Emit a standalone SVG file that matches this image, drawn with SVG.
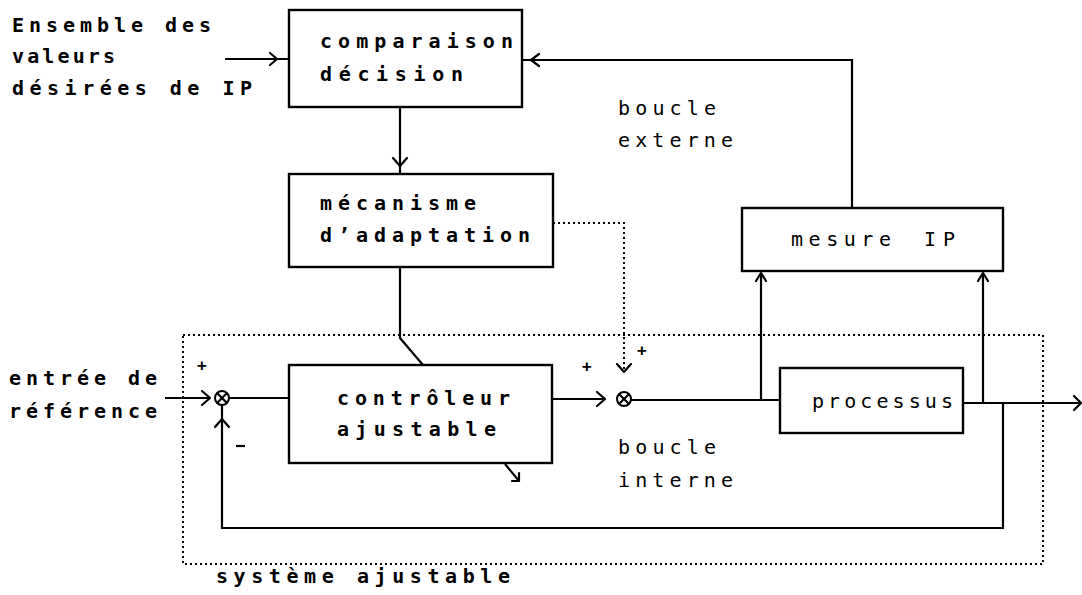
<svg xmlns="http://www.w3.org/2000/svg" width="1082" height="595" viewBox="0 0 1082 595">
<style>
text{font-family:"DejaVu Sans Mono","Liberation Mono",monospace;font-size:20px;font-weight:bold;fill:#000}
.lt{font-weight:normal}
.sm{font-size:16px}
.box{fill:none;stroke:#000;stroke-width:2.4}
.ln{fill:none;stroke:#000;stroke-width:2.2}
.dot{fill:none;stroke:#000;stroke-width:2;stroke-dasharray:2 3}
.ah{fill:none;stroke:#000;stroke-width:2.2;stroke-linecap:round;stroke-linejoin:round}
.sum{fill:#fff;stroke:#000;stroke-width:2}
</style>
<rect width="1082" height="595" fill="#fff"/>

<g id="labels-left">
<text x="12" y="32" textLength="199" lengthAdjust="spacing">Ensemble des</text>
<text x="12" y="63" textLength="103" lengthAdjust="spacing">valeurs</text>
<text x="12" y="95" textLength="240" lengthAdjust="spacing">désirées de IP</text>
<text x="9" y="385" textLength="148" lengthAdjust="spacing">entrée de</text>
<text x="9" y="418" textLength="148" lengthAdjust="spacing">référence</text>
</g>

<g id="comparaison">
<rect class="box" x="289" y="10" width="233" height="97"/>
<text x="320" y="48" textLength="193" lengthAdjust="spacing">comparaison</text>
<text x="320" y="81" textLength="143" lengthAdjust="spacing">décision</text>
</g>

<g id="mecanisme">
<rect class="box" x="289" y="174" width="264" height="93"/>
<text x="320" y="210" textLength="156" lengthAdjust="spacing">mécanisme</text>
<text x="320" y="242" textLength="210" lengthAdjust="spacing">d’adaptation</text>
</g>

<g id="controleur">
<rect class="box" x="289" y="365" width="263" height="98"/>
<text x="337" y="405" textLength="173" lengthAdjust="spacing">contrôleur</text>
<text x="337" y="436" textLength="159" lengthAdjust="spacing">ajustable</text>
</g>

<g id="processus">
<rect class="box" x="780" y="368" width="183" height="65"/>
<text class="lt" x="812" y="408" textLength="141" lengthAdjust="spacing">processus</text>
</g>

<g id="mesure">
<rect class="box" x="742" y="208" width="261" height="63"/>
<text class="lt" x="791" y="246" textLength="100" lengthAdjust="spacing">mesure</text>
<text class="lt" x="924" y="246" textLength="31" lengthAdjust="spacing">IP</text>
</g>

<g id="sommateur1">
<circle class="sum" cx="222" cy="398" r="7"/>
<path class="ln" d="M217 393 L227 403 M227 393 L217 403" stroke-width="1.6"/>
<text class="sm" x="197" y="371">+</text>
<path class="ln" d="M236 446 H245" stroke-width="3"/>
</g>

<g id="sommateur2">
<circle class="sum" cx="624" cy="399" r="7"/>
<path class="ln" d="M619 394 L629 404 M629 394 L619 404" stroke-width="1.6"/>
<text class="sm" x="582" y="372">+</text>
<text class="sm" x="637" y="356">+</text>
</g>

<g id="systeme-ajustable">
<rect class="dot" x="183" y="335" width="860" height="229"/>
<text x="216" y="583" textLength="294" lengthAdjust="spacing">système ajustable</text>
</g>

<g id="boucles">
<text class="lt" x="618" y="115" textLength="98" lengthAdjust="spacing">boucle</text>
<text class="lt" x="618" y="147" textLength="115" lengthAdjust="spacing">externe</text>
<text class="lt" x="618" y="454" textLength="98" lengthAdjust="spacing">boucle</text>
<text class="lt" x="618" y="487" textLength="115" lengthAdjust="spacing">interne</text>
</g>

<g id="connecteurs">
<path class="ln" d="M225 59 H289"/>
<path class="ah" d="M270 53 L277 59 L270 65"/>
<path class="ln" d="M852 208 V60 H522"/>
<path class="ah" d="M539 54 L531 60 L539 66"/>
<path class="ln" d="M400 107 V174"/>
<path class="ah" d="M393 158 L400 166 L407 158"/>
<path class="ln" d="M400 267 V338 L423 365"/>
<path class="dot" d="M553 223 H624 V372"/>
<path class="ah" d="M617 364 L624 372 L631 364"/>
<path class="ln" d="M165 398 H210"/>
<path class="ah" d="M202 391 L210 398 L202 405"/>
<path class="ln" d="M229 398 H289"/>
<path class="ln" d="M552 399 H605"/>
<path class="ah" d="M597 392 L605 399 L597 406"/>
<path class="ln" d="M631 400 H780"/>
<path class="ln" d="M761 400 V273"/>
<path class="ah" d="M756 281 L761 273 L766 281"/>
<path class="ln" d="M963 403 H1081"/>
<path class="ah" d="M1074 396 L1081 403 L1074 410"/>
<path class="ln" d="M983 403 V273"/>
<path class="ah" d="M978 281 L983 273 L988 281"/>
<path class="ln" d="M1003 403 V528 H222 V405"/>
<path class="ah" d="M215 427 L222 419 L229 427"/>
<path class="ln" d="M505 464 L519 481"/>
<path class="ah" d="M512 481 L519 481 L519 473"/>
</g>
</svg>
